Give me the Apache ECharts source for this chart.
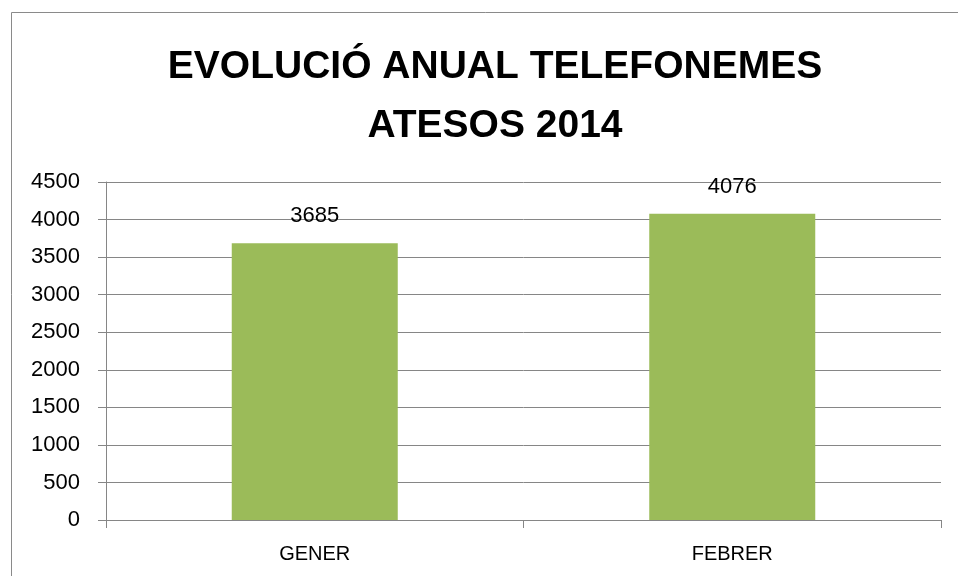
<!DOCTYPE html>
<html><head><meta charset="utf-8">
<script src="https://cdn.jsdelivr.net/npm/echarts@6/dist/echarts.min.js"></script>
<style>html,body{margin:0;padding:0;background:#fff}#c{width:958px;height:576px}</style>
</head><body><div id="c"></div>
<script>
const categories = ['GENER', 'FEBRER'];
const values = [3685, 4076];
const yTicks = [0, 500, 1000, 1500, 2000, 2500, 3000, 3500, 4000, 4500];
const titleText = 'EVOLUCIÓ ANUAL TELEFONEMES\nATESOS 2014';

const chart = echarts.init(document.getElementById('c'), null, {renderer: 'canvas'});
const font = 'Liberation Sans';
chart.setOption({
  animation: false,
  backgroundColor: '#fff',
  graphic: [{
    type: 'rect', left: 9, top: 10,
    shape: {width: 960, height: 600},
    style: {fill: 'none', stroke: '#8a8a8a', lineWidth: 1}
  }],
  title: {
    text: titleText, left: 490, top: 33, textAlign: 'center',
    textStyle: {fontFamily: font, fontWeight: 'bold', fontSize: 39, lineHeight: 59, color: '#000'}
  },
  grid: {left: 106, right: 17, top: 182, bottom: 56, containLabel: false},
  xAxis: {
    type: 'category', data: categories,
    axisLine: {lineStyle: {color: '#868686', width: 1}},
    axisTick: {show: true, length: 8, alignWithLabel: false, lineStyle: {color: '#868686'}},
    axisLabel: {fontFamily: font, fontSize: 20, color: '#000', margin: 24},
    splitLine: {show: false}
  },
  yAxis: {
    type: 'value', min: yTicks[0], max: yTicks[yTicks.length - 1], interval: 500,
    axisLine: {show: true, lineStyle: {color: '#868686'}},
    axisTick: {show: true, length: 8, lineStyle: {color: '#868686'}},
    axisLabel: {fontFamily: font, fontSize: 22, color: '#000', margin: 26, formatter: v => String(v)},
    splitLine: {show: true, lineStyle: {color: '#868686', width: 1}}
  },
  series: [{
    type: 'bar', data: values, barWidth: 166,
    itemStyle: {color: '#9BBB59'},
    label: {show: true, position: 'top', distance: 16, fontFamily: font, fontSize: 22, color: '#000'}
  }]
});
</script></body></html>
